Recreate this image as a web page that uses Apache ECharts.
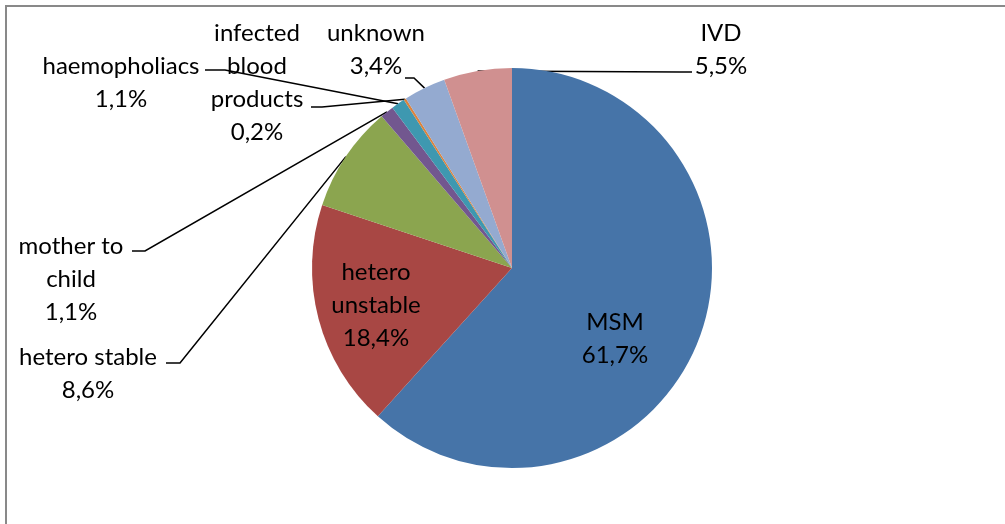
<!DOCTYPE html>
<html><head><meta charset="utf-8">
<script src="https://cdn.jsdelivr.net/npm/echarts@6/dist/echarts.min.js"></script>
<style>html,body{margin:0;padding:0;background:#fff}#c{width:1005px;height:524px}</style>
</head><body><div id="c"></div>
<script>
const categories = ['MSM', 'hetero unstable', 'hetero stable', 'mother to child', 'haemophiliacs', 'infected blood products', 'unknown', 'IVD'];
const labelNames = ['MSM', 'hetero\nunstable', 'hetero stable', 'mother to\nchild', 'haemopholiacs', 'infected\nblood\nproducts', 'unknown', 'IVD'];
const shares = [61.7, 18.4, 8.6, 1.1, 1.1, 0.2, 3.4, 5.5];
const colors = ['#4674A8', '#A84744', '#8BA54F', '#72578F', '#3E98B0', '#DC833C', '#94AAD0', '#D09090'];

// label layout (text centre, and leader-line elbow/end) — style only
const labelAnchor = [
  {x: 615, y: 339},
  {x: 376, y: 305},
  {x: 88, y: 374, line: [[180, 363], [166, 363]]},
  {x: 71, y: 279, line: [[145, 251], [132, 251]]},
  {x: 121, y: 83, line: [[225, 70], [205, 70]]},
  {x: 257, y: 83, line: [[322, 107], [311, 107]]},
  {x: 376, y: 50, line: [[414, 78], [405, 78]]},
  {x: 721, y: 50, line: [[680, 72], [692, 72]]}
];

const chart = echarts.init(document.getElementById('c'));
chart.setOption({
  backgroundColor: '#fff',
  animation: false,
  graphic: [{
    type: 'rect', shape: {x: 6, y: 6, width: 1200, height: 800},
    style: {fill: 'none', stroke: '#898989', lineWidth: 2}, silent: true
  }],
  series: [{
    type: 'pie',
    center: [512, 268],
    radius: [0, 200],
    startAngle: 90,
    clockwise: true,
    avoidLabelOverlap: false,
    data: categories.map((c, i) => ({
      name: c, value: shares[i],
      itemStyle: {color: colors[i]},
      label: {position: i < 2 ? 'inside' : 'outside'},
      labelLine: {show: i >= 2}
    })),
    label: {
      show: true,
      fontFamily: 'Lato',
      fontSize: 24,
      lineHeight: 33,
      color: '#000',
      align: 'center',
      formatter: p => labelNames[p.dataIndex] + '\n' + shares[p.dataIndex].toFixed(1).replace('.', ',') + '%'
    },
    labelLine: {show: true, lineStyle: {color: '#000', width: 1.5}, length: 10, length2: 10},
    labelLayout: function (params) {
      const a = labelAnchor[params.dataIndex];
      const res = {x: a.x, y: a.y, align: 'center', verticalAlign: 'middle'};
      if (a.line && params.labelLinePoints) {
        res.labelLinePoints = [params.labelLinePoints[0], a.line[0], a.line[1]];
      }
      return res;
    }
  }]
});
</script></body></html>
